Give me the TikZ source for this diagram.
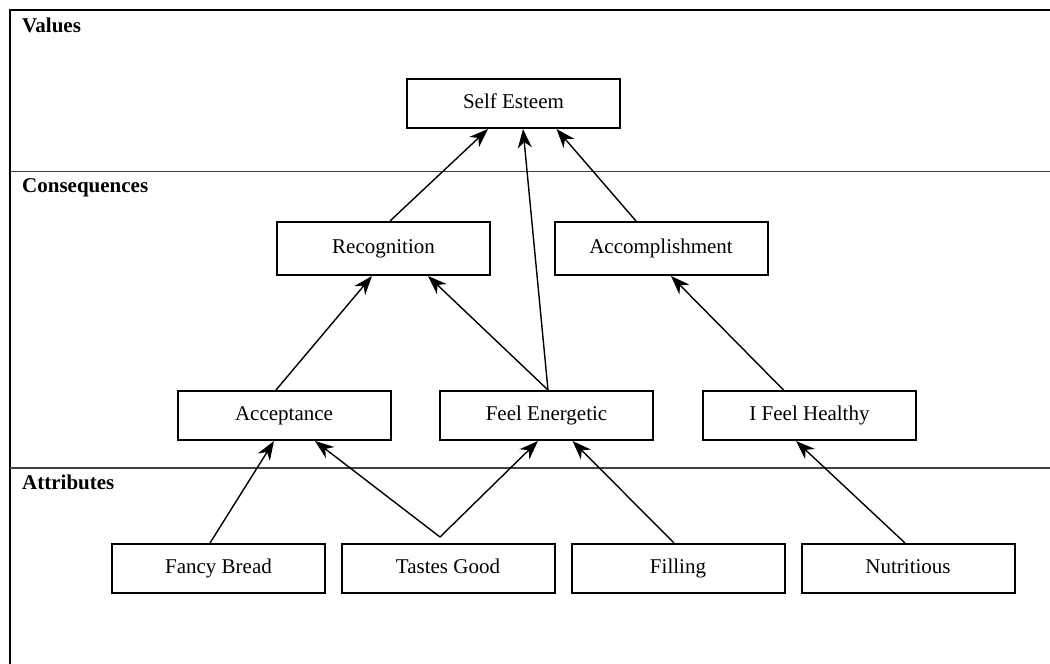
\documentclass[tikz,border=0pt]{standalone}
\usepackage{fontspec}
\setmainfont{Liberation Serif}
\usetikzlibrary{arrows.meta}
\begin{document}
\begin{tikzpicture}[x=1pt,y=-1pt,
  box/.style={draw,line width=2pt,minimum width=213pt,minimum height=49pt,inner sep=0pt,text height=14.5pt,text depth=4.5pt,font=\fontsize{21}{24}\selectfont},
  lbl/.style={anchor=base west,inner sep=0pt,font=\fontsize{21}{24}\selectfont\bfseries},
  sep/.style={line width=1.4pt,draw=black!75},
  arr/.style={line width=1.4pt,-{Stealth[length=19pt,width=14pt,inset=6pt]}}]
\useasboundingbox (0,0) rectangle (1050,664);
% frame
\draw[line width=2pt] (1050,9.5) -- (9.5,9.5) -- (9.5,664);
\draw[sep] (9.5,171.5) -- (1050,171.5);
\draw[sep] (9.5,468) -- (1050,468);
\node[lbl] (lv) at (22,32) {Values};
\node[lbl] (lc) at (22,192) {Consequences};
\node[lbl] (la) at (22,489) {Attributes};
% nodes
\node[box] (se) at (513.5,103.5) {Self Esteem};
\node[box,minimum height=53pt] (rec) at (383.5,248.5) {Recognition};
\node[box,minimum height=53pt] (acc) at (661,248.5) {Accomplishment};
\node[box] (accp) at (284,415.5) {Acceptance};
\node[box] (fe) at (546.5,415.5) {Feel Energetic};
\node[box] (ifh) at (809.5,415.5) {I Feel Healthy};
\node[box] (fb) at (218.5,568.5) {Fancy Bread};
\node[box] (tg) at (448,568.5) {Tastes Good};
\node[box] (fil) at (678,568.5) {Filling};
\node[box] (nut) at (908,568.5) {Nutritious};
\coordinate (tgv) at ([xshift=-8pt,yshift=6pt]tg.north);
% connectors
\draw[arr] ([xshift=6.5pt]rec.north) -- ([xshift=-25.5pt]se.south);
\draw[arr] ([xshift=1.5pt]fe.north) -- ([xshift=9.5pt]se.south);
\draw[arr] ([xshift=-25pt]acc.north) -- ([xshift=43pt]se.south);
\draw[arr] ([xshift=-8pt]accp.north) -- ([xshift=-11.5pt]rec.south);
\draw[arr] ([xshift=1.5pt]fe.north) -- ([xshift=44.5pt]rec.south);
\draw[arr] ([xshift=-26pt]ifh.north) -- ([xshift=10pt]acc.south);
\draw[arr] ([xshift=-8.5pt]fb.north) -- ([xshift=-10pt]accp.south);
\draw[arr] (tgv) -- ([xshift=31pt]accp.south);
\draw[arr] (tgv) -- ([xshift=-8.5pt]fe.south);
\draw[arr] ([xshift=-4pt]fil.north) -- ([xshift=26pt]fe.south);
\draw[arr] ([xshift=-3pt]nut.north) -- ([xshift=-13.5pt]ifh.south);
\end{tikzpicture}
\end{document}
